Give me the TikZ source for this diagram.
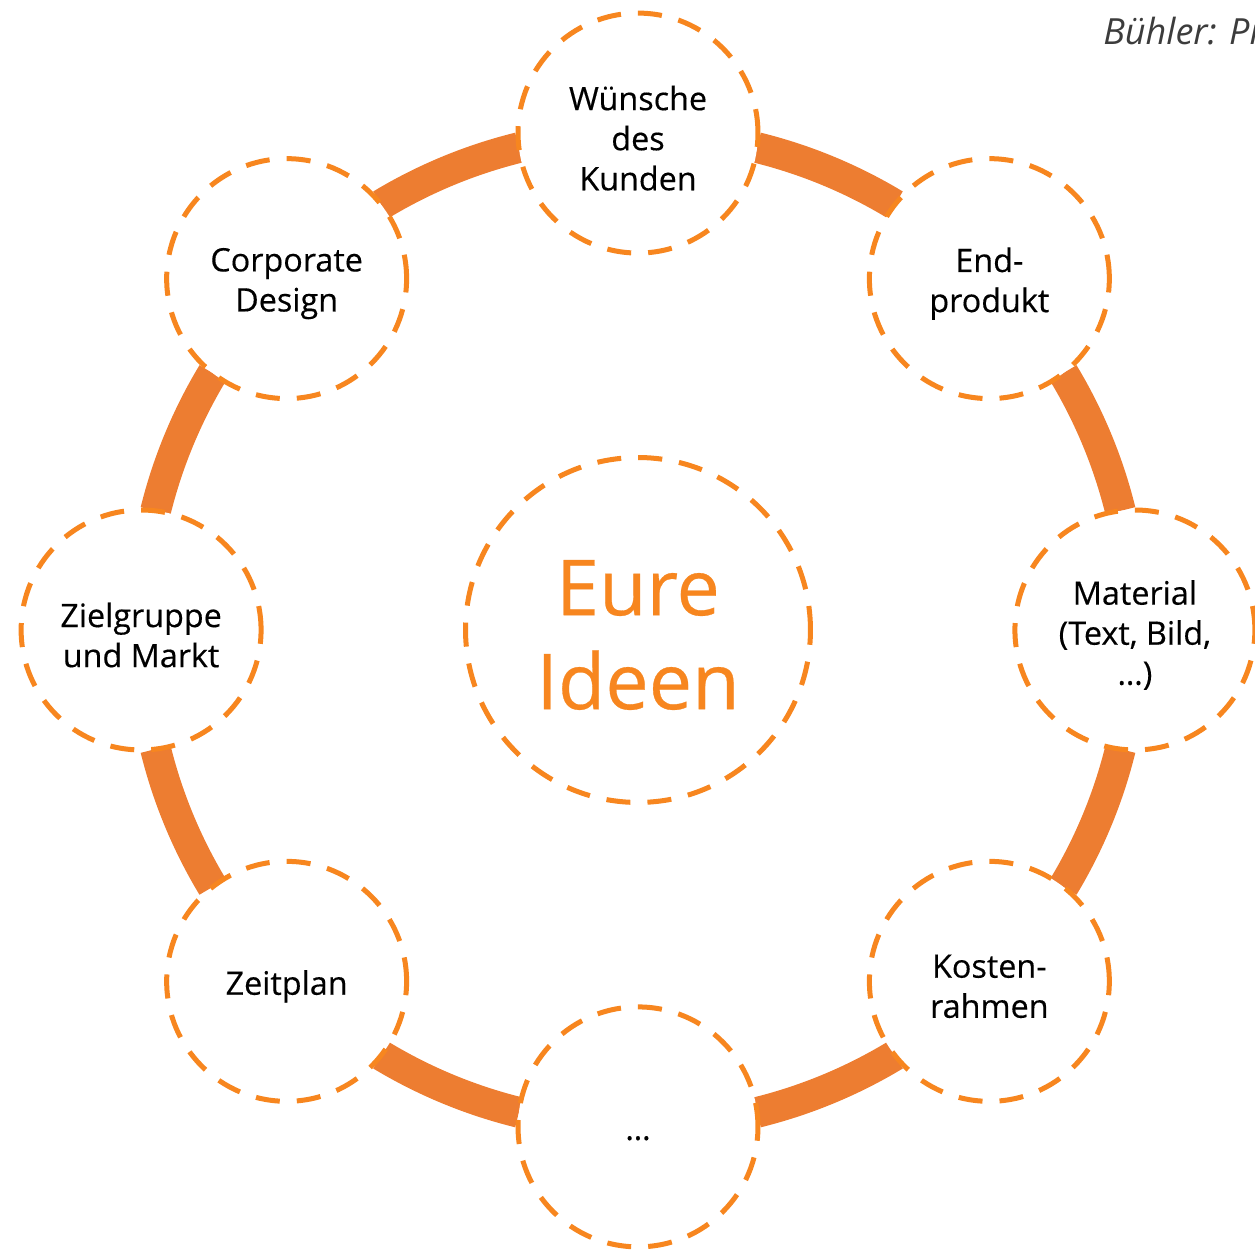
\documentclass[tikz,border=0pt]{standalone}
\usepackage{fontspec}
\setmainfont{Open Sans}
\newfontfamily\topicfont{Open Sans}[FakeBold=0.35]
\usetikzlibrary{calc}
\definecolor{ringorange}{RGB}{237,125,49}
\definecolor{dashorange}{RGB}{247,134,31}
\definecolor{notegray}{RGB}{60,60,60}
\tikzset{
  ring/.style={circle, draw=dashorange, fill=white, line width=2.85pt,
    dash pattern=on 13.7pt off 9.7pt, inner sep=0pt},
  caption/.style={align=center, inner sep=0pt, yshift=-0.1cm},
  topic/.style={ring, minimum size=4.8cm,
    label={[caption, font=\topicfont\fontsize{18.4pt}{22.8pt}\selectfont, text=black]center:{#1}}},
  hub/.style={ring, minimum size=6.9cm,
    label={[caption, font=\topicfont\fontsize{44pt}{53.5pt}\selectfont, text=dashorange]center:{#1}}},
  link/.style={draw=ringorange, line width=17.5pt, line cap=butt},
}
\begin{document}
\begin{tikzpicture}[x=0.02cm, y=0.02cm]
  \useasboundingbox (0,0) rectangle (1255,1250);
  \coordinate (O) at (638,620);
  % connecting ring segments between neighbouring topics
  \foreach \a in {90,45,0,-45,-90,-135,-180,-225}{
    \draw[link] ($(O)+(\a-13.87:9.94cm)$)
      arc[start angle=\a-13.87, end angle=\a-45+13.87, radius=9.94cm];
  }
  % topics on the ring
  \node[topic={Wünsche\\des\\Kunden}] (wuensche) at ($(O)+(90:9.94cm)$) {};
  \node[topic={End-\\produkt}] (endprodukt) at ($(O)+(45:9.94cm)$) {};
  \node[topic={Material\\(Text, Bild,\\…)}] (material) at ($(O)+(0:9.94cm)$) {};
  \node[topic={Kosten-\\rahmen}] (kosten) at ($(O)+(-45:9.94cm)$) {};
  \node[topic={\strut…}] (weitere) at ($(O)+(-90:9.94cm)$) {};
  \node[topic={Zeitplan}] (zeitplan) at ($(O)+(-135:9.94cm)$) {};
  \node[topic={Zielgruppe\\und Markt}] (zielgruppe) at ($(O)+(180:9.94cm)$) {};
  \node[topic={Corporate\\Design}] (corporate) at ($(O)+(135:9.94cm)$) {};
  % centre
  \node[hub={Eure\\Ideen}] (ideen) at (O) {};
  % source note
  \node[anchor=base west, inner sep=0pt, text=notegray,
    font=\fontsize{20.5pt}{24pt}\selectfont\itshape] (quelle) at (1103,1205) {Bühler: Pr};
\end{tikzpicture}
\end{document}
